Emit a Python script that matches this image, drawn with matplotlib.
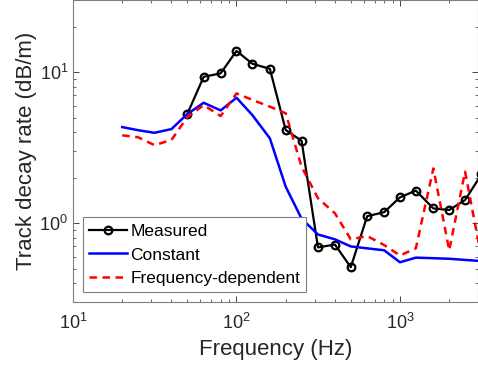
import numpy as np
import matplotlib
matplotlib.use("Agg")
import matplotlib.pyplot as plt

plt.rcParams['font.family'] = ['Liberation Sans', 'DejaVu Sans']
plt.rcParams['mathtext.default'] = 'regular'

# one-third octave band centre frequencies (Hz)
freq = [20, 25, 31.5, 40, 50, 63, 80, 100, 125, 160, 200, 250, 315,
        400, 500, 630, 800, 1000, 1250, 1600, 2000, 2500, 3150]

# measured decay rate, starts at 50 Hz
freq_meas = freq[4:]
measured = [5.27, 9.3, 9.8, 13.8, 11.35, 10.5, 4.13, 3.51, 0.69, 0.72,
            0.51, 1.11, 1.18, 1.48, 1.64, 1.25, 1.22, 1.42, 2.1]

constant = [4.32, 4.12, 3.96, 4.19, 5.27, 6.26, 5.57, 6.76, 5.19, 3.64,
            1.74, 1.07, 0.84, 0.78, 0.70, 0.68, 0.66, 0.55, 0.59, 0.585,
            0.58, 0.57, 0.56]

freq_dep = [3.81, 3.7, 3.28, 3.55, 5.03, 6.04, 5.11, 7.22, 6.54, 5.9,
            5.33, 2.36, 1.46, 1.16, 0.78, 0.82, 0.715, 0.61, 0.68, 2.3,
            0.66, 2.19, 0.59]

txt = '#262626'

fig = plt.figure(figsize=(4.78, 3.73), dpi=100)
ax = fig.add_axes([73 / 478, 71 / 373, 1 - 73 / 478, 1 - 71 / 373])

ax.plot(freq_meas, measured, color='k', lw=1.6, marker='o', ms=5.5,
        mfc='none', mew=1.6, label='Measured')
ax.plot(freq, constant, color=(0, 0, 1), lw=1.8, label='Constant')
ax.plot(freq, freq_dep, color=(1, 0, 0), lw=1.8, ls=(0, (3.0, 2.2)),
        label='Frequency-dependent')

ax.set_xscale('log')
ax.set_yscale('log')
ax.set_xlim(10, 3000)
ax.set_ylim(0.3, 30)

ax.set_xlabel('Frequency (Hz)', fontsize=16, color=txt)
ax.set_ylabel('Track decay rate (dB/m)', fontsize=16, color=txt, labelpad=2)

ax.tick_params(which='both', direction='in', top=True, right=True,
               colors=txt, labelsize=13)
ax.tick_params(which='major', length=4.5, width=0.6)
ax.tick_params(which='minor', length=2.5, width=0.5)
ax.tick_params(axis='x', pad=8)
for s in ax.spines.values():
    s.set_color('#7f7f7f')
    s.set_linewidth(0.8)

leg = ax.legend(loc='lower left', fontsize=12.5, numpoints=1,
                handlelength=2.2, handletextpad=0.2, labelspacing=0.5,
                borderaxespad=0.55, borderpad=0.35, fancybox=False,
                framealpha=1)
leg.get_frame().set_edgecolor('#7f7f7f')
leg.get_frame().set_linewidth(0.8)
for t in leg.get_texts():
    t.set_color('k')

fig.savefig('out.png', dpi=100)
